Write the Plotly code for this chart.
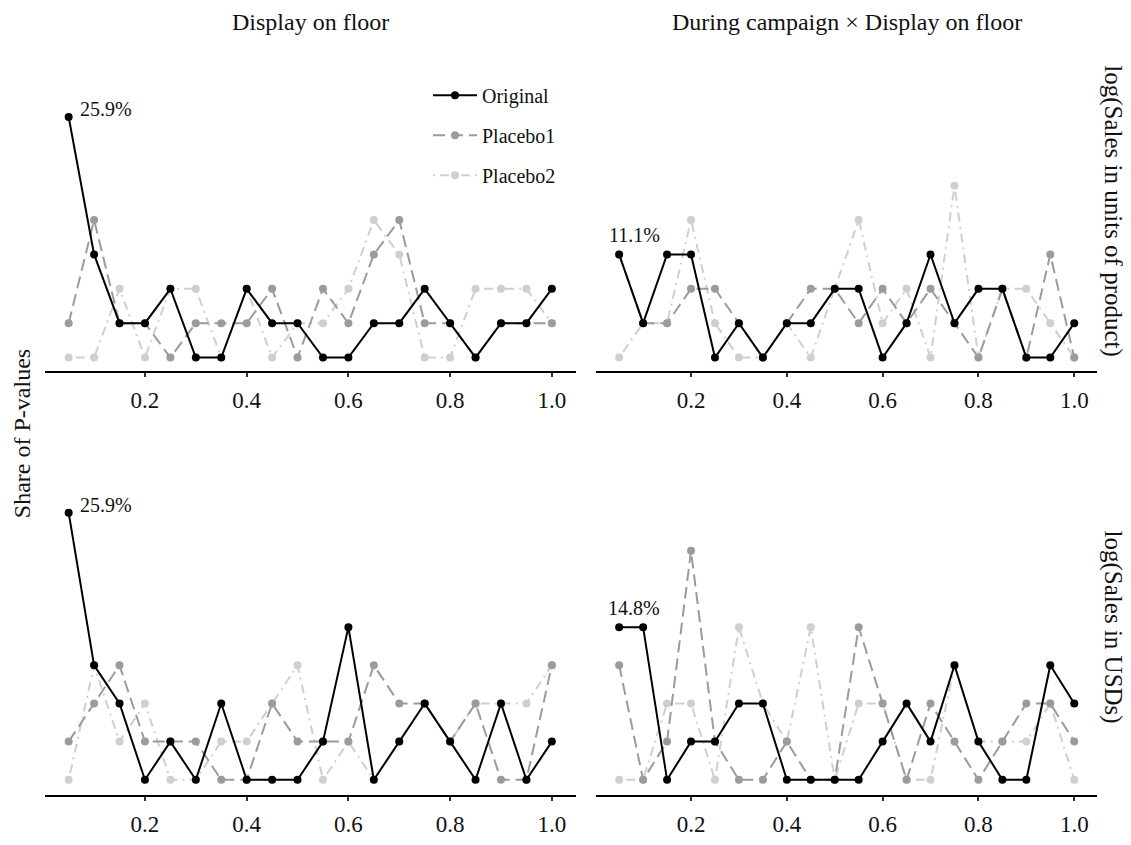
import plotly.graph_objects as go

# ---------------- data (counts of p-values per bin, out of N) ----------------
N_TOTAL = 27
x_bins = [0.05, 0.10, 0.15, 0.20, 0.25, 0.30, 0.35, 0.40, 0.45, 0.50,
          0.55, 0.60, 0.65, 0.70, 0.75, 0.80, 0.85, 0.90, 0.95, 1.00]
series_names = ["Original", "Placebo1", "Placebo2"]

col_titles = ["Display on floor", "During campaign \u00d7 Display on floor"]
row_titles = ["log(Sales in units of product)", "log(Sales in USDs)"]
tick_vals = [0.2, 0.4, 0.6, 0.8, 1.0]
tick_text = ["0.2", "0.4", "0.6", "0.8", "1.0"]
y_title = "Share of P-values"

# top-left: units, Display on floor
tl_original = [7, 3, 1, 1, 2, 0, 0, 2, 1, 1, 0, 0, 1, 1, 2, 1, 0, 1, 1, 2]
tl_placebo1 = [1, 4, 1, 1, 0, 1, 1, 1, 2, 0, 2, 1, 3, 4, 1, 1, 0, 1, 1, 1]
tl_placebo2 = [0, 0, 2, 0, 2, 2, 0, 2, 0, 1, 1, 2, 4, 3, 0, 0, 2, 2, 2, 1]
# top-right: units, During campaign x Display on floor
tr_original = [3, 1, 3, 3, 0, 1, 0, 1, 1, 2, 2, 0, 1, 3, 1, 2, 2, 0, 0, 1]
tr_placebo1 = [3, 1, 1, 2, 2, 1, 0, 1, 2, 2, 1, 2, 1, 2, 1, 0, 2, 0, 3, 0]
tr_placebo2 = [0, 1, 1, 4, 1, 0, 0, 1, 0, 2, 4, 1, 2, 0, 5, 0, 2, 2, 1, 0]
# bottom-left: USDs, Display on floor
bl_original = [7, 3, 2, 0, 1, 0, 2, 0, 0, 0, 1, 4, 0, 1, 2, 1, 0, 2, 0, 1]
bl_placebo1 = [1, 2, 3, 1, 1, 1, 0, 0, 2, 1, 1, 1, 3, 2, 2, 1, 2, 0, 0, 3]
bl_placebo2 = [0, 3, 1, 2, 0, 0, 1, 1, 2, 3, 0, 1, 0, 1, 2, 1, 2, 2, 2, 3]
# bottom-right: USDs, During campaign x Display on floor
br_original = [4, 4, 0, 1, 1, 2, 2, 0, 0, 0, 0, 1, 2, 1, 3, 1, 0, 0, 3, 2]
br_placebo1 = [3, 0, 1, 6, 1, 0, 0, 1, 0, 0, 4, 2, 0, 2, 1, 0, 1, 2, 2, 1]
br_placebo2 = [0, 0, 2, 2, 0, 4, 2, 1, 4, 0, 2, 2, 0, 0, 3, 1, 1, 1, 2, 0]

panels = [
    [tl_original, tl_placebo1, tl_placebo2],
    [tr_original, tr_placebo1, tr_placebo2],
    [bl_original, bl_placebo1, bl_placebo2],
    [br_original, br_placebo1, br_placebo2],
]

# ---------------- styling ----------------
PAGE_W, PAGE_H = 1131, 845
OFF = 8                       # default page (body) margin
W, H = PAGE_W - OFF, PAGE_H - 2 * OFF
FONT = "Liberation Serif"
TXT = "#111111"
colors = {"Original": "#000000", "Placebo1": "#9b9b9b", "Placebo2": "#cfcfcf"}
dashes = {"Original": "solid", "Placebo1": "12px,6px", "Placebo2": "2px,5px,9px,5px"}


def px_x(p):
    """page pixel x -> paper fraction"""
    return (p - OFF) / W


def px_y(p):
    """page pixel y -> paper fraction"""
    return 1 - (p - OFF) / H


# panel pixel geometry (left, right) and (top, bottom, zero-line, px per count)
x_pix = [(44.5, 576.0), (596.4, 1097.0)]
row_geo = [(55.0, 378.0, 364.0, 35.0), (470.0, 810.0, 794.0, 38.86)]
x_range = [0.0025, 1.0475]

fig = go.Figure()

for pi, series in enumerate(panels):
    ax = "" if pi == 0 else str(pi + 1)
    # draw placebo lines first so the original sits on top
    for si in [2, 1, 0]:
        name = series_names[si]
        share = [v / N_TOTAL for v in series[si]]
        fig.add_trace(go.Scatter(
            x=x_bins, y=share, name=name, mode="lines+markers",
            line=dict(color=colors[name], width=2, dash=dashes[name]),
            marker=dict(color=colors[name], size=8),
            xaxis="x" + ax, yaxis="y" + ax,
            showlegend=(pi == 0), legendgroup=name, legendrank=si + 1,
            hoverinfo="skip",
        ))

layout = dict(
    width=W, height=H,
    margin=dict(l=0, r=0, t=0, b=0),
    paper_bgcolor="white", plot_bgcolor="white",
    font=dict(family=FONT, size=22, color=TXT),
    showlegend=True,
    legend=dict(x=px_x(428), y=px_y(77), xanchor="left", yanchor="top",
                font=dict(family=FONT, size=20, color=TXT),
                bgcolor="rgba(0,0,0,0)", tracegroupgap=11,
                traceorder="grouped", itemwidth=44),
)

for pi in range(4):
    r, c = divmod(pi, 2)
    ax = "" if pi == 0 else str(pi + 1)
    left, right = x_pix[c]
    top, bottom, zero, ppc = row_geo[r]
    per_unit = ppc * N_TOTAL
    y_lo = -(bottom - zero) / per_unit
    y_hi = (zero - top) / per_unit
    layout["xaxis" + ax] = dict(
        domain=[px_x(left), px_x(right)], range=x_range,
        anchor="y" + ax, showgrid=False, zeroline=False,
        showline=True, linecolor="#000000", linewidth=2,
        ticks="outside", ticklen=4, tickwidth=2, tickcolor="#333333",
        tickvals=tick_vals, ticktext=tick_text, ticklabelstandoff=3,
        tickfont=dict(family=FONT, size=23, color=TXT),
    )
    layout["yaxis" + ax] = dict(
        domain=[px_y(bottom), px_y(top)], range=[y_lo, y_hi],
        anchor="x" + ax, showgrid=False, zeroline=False,
        showline=False, showticklabels=False, ticks="",
    )

fig.update_layout(**layout)

annotations = []
# column titles
for c, t in enumerate(col_titles):
    left, right = x_pix[c]
    annotations.append(dict(text=t, xref="paper", yref="paper",
                            x=px_x((left + right) / 2), y=px_y(22),
                            xanchor="center", yanchor="middle", showarrow=False,
                            font=dict(family=FONT, size=24, color=TXT)))
# row titles (right strip)
for r, t in enumerate(row_titles):
    cy = [215, 638][r]
    annotations.append(dict(text=t, xref="paper", yref="paper",
                            x=px_x(1113), y=px_y(cy), textangle=90,
                            xanchor="center", yanchor="middle", showarrow=False,
                            font=dict(family=FONT, size=25, color=TXT)))
# y axis title
annotations.append(dict(text=y_title, xref="paper", yref="paper",
                        x=px_x(22), y=px_y(442), textangle=-90,
                        xanchor="center", yanchor="middle", showarrow=False,
                        font=dict(family=FONT, size=24, color=TXT)))
# value labels at the first bin of the Original series
for pi, series in enumerate(panels):
    r, c = divmod(pi, 2)
    ax = "" if pi == 0 else str(pi + 1)
    v = series[0][0] / N_TOTAL
    label = f"{v * 100:.1f}%"
    if c == 0:
        annotations.append(dict(text=label, xref="x" + ax, yref="y" + ax,
                                x=x_bins[0], y=v, xanchor="left", yanchor="middle",
                                xshift=9, yshift=8, showarrow=False,
                                font=dict(family=FONT, size=20, color=TXT)))
    else:
        annotations.append(dict(text=label, xref="x" + ax, yref="y" + ax,
                                x=x_bins[0], y=v, xanchor="center", yanchor="bottom",
                                xshift=15, yshift=6, showarrow=False,
                                font=dict(family=FONT, size=20, color=TXT)))

fig.update_layout(annotations=annotations)
fig.write_html("out.html")
